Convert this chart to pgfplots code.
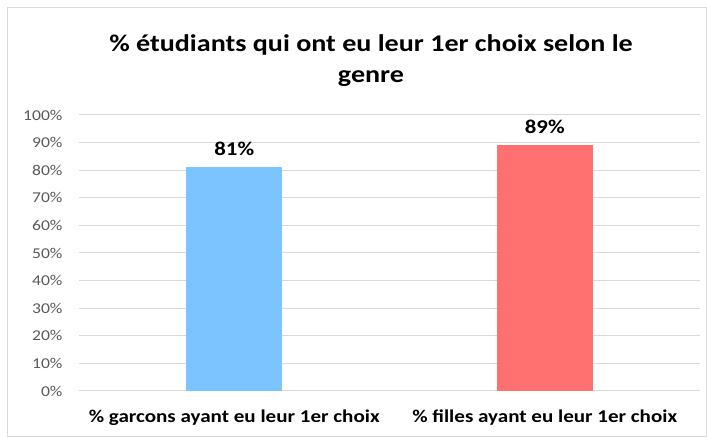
\documentclass[border=0pt]{standalone}
\usepackage{fontspec}
\setmainfont{Carlito}[FakeStretch=1.17]
\usepackage{pgfplots}
\pgfplotsset{compat=1.18}
\definecolor{barblue}{RGB}{124,196,255}
\definecolor{barred}{RGB}{255,112,112}
\definecolor{gridgray}{RGB}{217,217,217}
\definecolor{ticktext}{RGB}{89,89,89}
\begin{document}
\begin{tikzpicture}
\begin{axis}[
    name=ax,
    scale only axis, width=621pt, height=276pt,
    xmin=-0.5, xmax=1.5, ymin=0, ymax=100,
    xtick={0,1},
    xticklabels={\% garcons ayant eu leur 1er choix, \% filles ayant eu leur 1er choix},
    x tick label style={font=\fontsize{18}{20}\selectfont\bfseries, text=black, yshift=-15pt},
    ytick={0,10,...,100},
    yticklabel={\pgfmathprintnumber{\tick}\%},
    y tick label style={font=\fontsize{15}{17}\selectfont, text=ticktext, xshift=-13pt},
    /pgf/number format/assume math mode=true,
    ymajorgrids, grid style={gridgray, line width=1pt},
    axis line style={draw=none},
    axis x line*=bottom,
    x axis line style={draw=gridgray, line width=1pt},
    major tick length=0pt,
    ybar, bar width=96pt, bar shift=0pt,
    nodes near coords={\pgfmathprintnumber{\pgfplotspointmeta}\%},
    nodes near coords style={font=\fontsize{19.5}{21}\selectfont\bfseries, text=black, anchor=south, yshift=8pt},
]
\addplot[fill=barblue, draw=none] coordinates {(0,81)};
\addplot[fill=barred, draw=none] coordinates {(1,89)};
\end{axis}
\node[font=\fontsize{24}{31}\selectfont\bfseries, align=center] at ([xshift=292pt, yshift=330pt]ax.south west) {\% étudiants qui ont eu leur 1er choix selon le\\genre};
\draw[gridgray, line width=1pt] ([xshift=-71pt, yshift=-46pt]ax.south west) rectangle ([xshift=627pt, yshift=383pt]ax.south west);
\useasboundingbox ([xshift=-79pt, yshift=-47pt]ax.south west) rectangle ([xshift=628pt, yshift=391pt]ax.south west);
\end{tikzpicture}
\end{document}
